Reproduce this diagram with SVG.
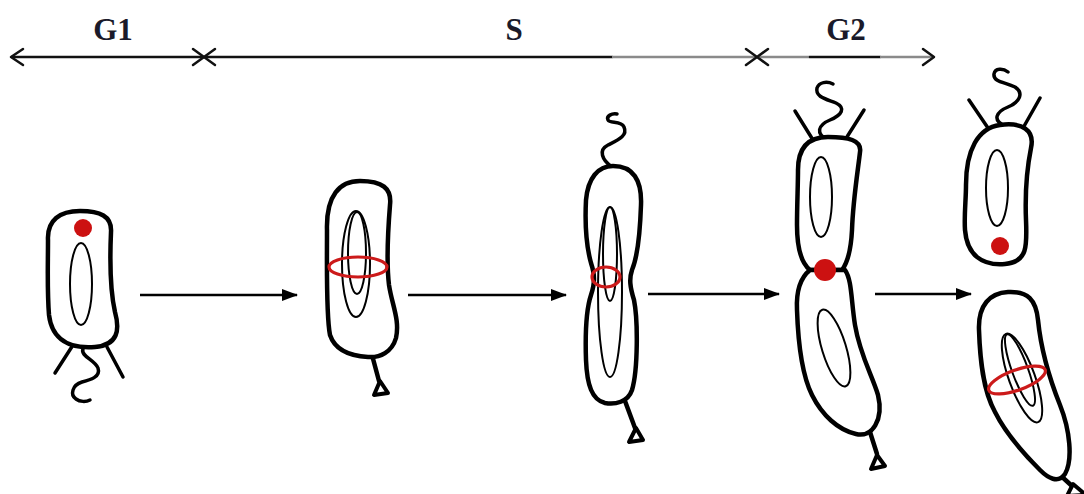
<svg xmlns="http://www.w3.org/2000/svg" width="1084" height="494" viewBox="0 0 1084 494">
  <defs>
    <marker id="head" viewBox="0 0 16 12" refX="15" refY="6" markerWidth="16" markerHeight="12" markerUnits="userSpaceOnUse" orient="auto">
      <path d="M0,0 L16,6 L0,12 Z" fill="#000"/>
    </marker>
  </defs>
  <style>
    .phase { font-family: "Liberation Serif", "Times New Roman", serif; font-weight: bold; font-size: 31px; fill: #1a1a2a; text-anchor: middle; }
    .tl { fill: none; stroke: #111; stroke-width: 2.5; stroke-linecap: round; stroke-linejoin: round; }
    .tl-grey { fill: none; stroke: #8a8a8a; stroke-width: 2.5; }
    .body { fill: #fff; stroke: #000; stroke-width: 4.5; stroke-linejoin: round; }
    .dna { fill: none; stroke: #000; stroke-width: 2; }
    .ring { fill: none; stroke: #cc1a1a; stroke-width: 3.2; }
    .dot { fill: #cc1111; }
    .hair { fill: none; stroke: #000; stroke-width: 3.5; stroke-linecap: round; stroke-linejoin: round; }
    .stalk { fill: none; stroke: #000; stroke-width: 4.5; stroke-linecap: round; }
    .foot { fill: #fff; stroke: #000; stroke-width: 4; stroke-linejoin: round; }
    .step { stroke: #000; stroke-width: 2.5; fill: none; }
  </style>

  <!-- cell-cycle timeline -->
  <g id="timeline">
    <line class="tl" x1="12" y1="57" x2="612" y2="57"/>
    <line class="tl-grey" x1="612" y1="57" x2="810" y2="57"/>
    <line class="tl" x1="810" y1="57" x2="880" y2="57"/>
    <line class="tl-grey" x1="880" y1="57" x2="933" y2="57"/>
    <!-- left end -->
    <path class="tl" d="M23,49 L11,57 L23,65"/>
    <!-- G1 | S boundary -->
    <path class="tl" d="M193,49 L204,57 L193,65 M215,49 L204,57 L215,65"/>
    <!-- S | G2 boundary -->
    <path class="tl" d="M746,49 L757,57 L746,65 M768,49 L757,57 L768,65"/>
    <!-- right end -->
    <path class="tl" d="M923,49 L934,57 L923,65"/>
    <text class="phase" x="113" y="40">G1</text>
    <text class="phase" x="514" y="40">S</text>
    <text class="phase" x="846" y="40">G2</text>
  </g>

  <!-- transitions between stages -->
  <g id="connectors">
    <line class="step" x1="140" y1="295" x2="297" y2="295" marker-end="url(#head)"/>
    <line class="step" x1="408" y1="295" x2="566" y2="295" marker-end="url(#head)"/>
    <line class="step" x1="648" y1="294" x2="779" y2="294" marker-end="url(#head)"/>
    <line class="step" x1="875" y1="294" x2="971" y2="294" marker-end="url(#head)"/>
  </g>

  <!-- swarmer cell (G1) -->
  <g id="cell-g1">
    <path class="hair" d="M73,345 L55,373 M107,347 L123,377"/>
    <path class="hair" d="M83,349 C80,356 95,360 98,368 C101,377 90,380 82,382 C72,385 70,395 76,399 C80,402 86,402 90,400"/>
    <path class="body" d="M48,240 C47,220 60,211 80,211 C100,211 112,216 111,232 C110,255 110,290 115,312 C120,330 118,345 95,347 C70,349 52,340 49,315 C47,290 48,265 48,240 Z"/>
    <ellipse class="dna" cx="81" cy="284" rx="11" ry="41"/>
    <circle class="dot" cx="83" cy="228" r="9"/>
  </g>

  <!-- stalked cell, replication start -->
  <g id="cell-s1">
    <path class="stalk" d="M372,355 L379,381"/>
    <path class="foot" d="M380,381 L374,395 L388,393 Z"/>
    <path class="body" d="M327,230 C326,195 340,181 360,181 C382,181 392,188 390,205 C388,230 386,260 389,285 C392,305 400,320 396,338 C392,352 380,358 368,357 C350,356 335,350 330,335 C326,315 327,270 327,230 Z"/>
    <ellipse class="dna" cx="356" cy="264" rx="14" ry="53"/>
    <ellipse class="dna" cx="357" cy="253" rx="9" ry="41"/>
    <ellipse class="ring" cx="358" cy="267" rx="29" ry="10"/>
  </g>

  <!-- elongating cell, late S -->
  <g id="cell-s2">
    <path class="hair" d="M612,167 C602,160 598,150 608,145 C618,140 628,136 624,127 C621,120 610,124 608,120 C606,116 612,113 617,114"/>
    <path class="stalk" d="M625,401 L635,428"/>
    <path class="foot" d="M636,428 L629,442 L643,440 Z"/>
    <path class="body" d="M613,166 C633,166 642,180 641,205 C640,235 637,258 632,270 C629,279 630,287 634,300 C638,320 638,370 632,390 C628,402 615,405 605,403 C592,400 587,385 586,360 C585,330 586,310 591,295 C595,283 595,275 591,263 C586,245 585,220 586,200 C588,178 598,166 613,166 Z"/>
    <ellipse class="dna" cx="610" cy="292" rx="12" ry="85"/>
    <ellipse class="dna" cx="610" cy="254" rx="7" ry="47"/>
    <ellipse class="ring" cx="606" cy="277" rx="14" ry="10"/>
  </g>

  <!-- pre-divisional cell (G2) -->
  <g id="cell-g2">
    <path class="hair" d="M813,140 L795,111 M845,140 L864,110"/>
    <path class="hair" d="M828,140 C815,134 818,125 830,120 C842,115 846,108 836,103 C826,99 815,97 817,88 C819,82 827,81 833,84"/>
    <path class="stalk" d="M870,432 L877,454"/>
    <path class="foot" d="M877,455 L871,469 L885,466 Z"/>
    <path class="body" d="M798,170 C798,148 808,137 828,137 C848,137 862,140 860,152 C858,170 853,200 852,230 C851,250 848,262 842,270 L810,270 C800,262 797,245 797,225 C797,205 798,185 798,170 Z"/>
    <path class="body" d="M810,270 L845,270 C852,280 851,300 855,325 C860,355 872,375 878,395 C884,420 872,438 856,434 C838,430 822,415 812,395 C802,375 798,340 797,310 C796,290 800,278 810,270 Z"/>
    <ellipse class="dna" cx="821" cy="197" rx="11" ry="40"/>
    <ellipse class="dna" cx="834" cy="348" rx="12" ry="40" transform="rotate(-17 834 348)"/>
    <circle class="dot" cx="825" cy="270" r="11"/>
  </g>

  <!-- daughter swarmer cell -->
  <g id="cell-swarmer">
    <path class="hair" d="M988,128 L969,100 M1023,128 L1040,98"/>
    <path class="hair" d="M1005,126 C992,120 996,112 1008,107 C1020,102 1024,93 1015,87 C1005,82 993,82 994,74 C995,68 1003,68 1008,72"/>
    <path class="body" d="M966,185 C966,150 978,128 1000,125 C1022,122 1035,130 1031,148 C1027,168 1025,195 1026,220 C1027,245 1028,262 1005,264 C982,266 967,255 965,230 C964,215 966,200 966,185 Z"/>
    <ellipse class="dna" cx="997" cy="188" rx="11" ry="38"/>
    <circle class="dot" cx="1000" cy="246" r="9"/>
  </g>

  <!-- daughter stalked cell -->
  <g id="cell-stalked">
    <path class="stalk" d="M1060,475 L1072,486"/>
    <path class="foot" d="M1073,484 L1067,496 L1086,495 Z"/>
    <path class="body" d="M979,330 C978,305 990,293 1008,292 C1028,291 1036,300 1038,320 C1041,350 1050,380 1060,405 C1070,430 1073,460 1065,474 C1058,484 1048,478 1040,470 C1025,455 1005,432 995,412 C983,390 980,360 979,330 Z"/>
    <ellipse class="dna" cx="1022" cy="378" rx="13" ry="47" transform="rotate(-20 1022 378)"/>
    <ellipse class="dna" cx="1020" cy="370" rx="8" ry="38" transform="rotate(-20 1020 370)"/>
    <ellipse class="ring" cx="1017" cy="380" rx="30" ry="10" transform="rotate(-20 1017 380)"/>
  </g>
</svg>
